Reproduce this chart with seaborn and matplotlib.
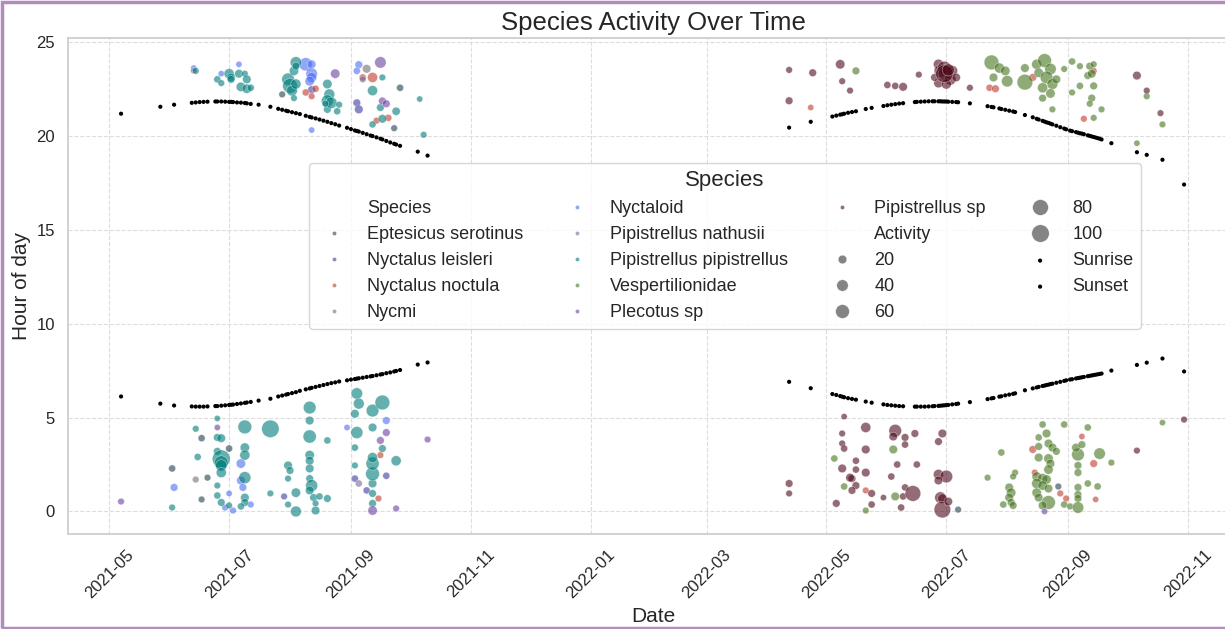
import matplotlib
matplotlib.use('Agg')
import pandas as pd
import matplotlib.pyplot as plt
import matplotlib.dates as mdates
from matplotlib.patches import Rectangle
import seaborn as sns

# species shown in legend order, with their colours
species_order = ['Eptesicus serotinus', 'Nyctalus leisleri', 'Nyctalus noctula', 'Nycmi',
                 'Nyctaloid', 'Pipistrellus nathusii', 'Pipistrellus pipistrellus',
                 'Vespertilionidae', 'Plecotus sp', 'Pipistrellus sp']
species_colors = ['#1f3f4f', '#3a3aa0', '#c0392b', '#707070',
                  '#4a6cf0', '#7a6a9a', '#007b7b',
                  '#45731f', '#6a3fa0', '#4d0a1a']

# --- observations per species: date, hour of day, activity ---
pippip_dates = [
    '2021-06-14', '2021-06-25', '2021-06-27', '2021-07-01', '2021-07-02', '2021-07-02',
    '2021-07-06', '2021-07-07', '2021-07-09', '2021-07-10', '2021-07-10', '2021-07-12',
    '2021-07-31', '2021-08-01', '2021-08-02', '2021-08-03', '2021-08-04', '2021-08-04',
    '2021-08-04', '2021-08-03', '2021-08-20', '2021-08-21', '2021-08-20', '2021-08-20',
    '2021-08-22', '2021-08-25', '2021-08-26', '2021-08-19', '2021-09-17', '2021-09-12',
    '2021-09-16', '2021-09-17', '2021-09-12', '2021-09-24', '2021-10-06', '2021-10-08',
    '2021-06-02', '2021-06-15', '2021-06-14', '2021-06-25', '2021-06-25', '2021-06-27',
    '2021-06-25', '2021-06-27', '2021-06-27', '2021-06-27', '2021-06-27', '2021-06-25',
    '2021-06-25', '2021-06-27', '2021-07-01', '2021-07-09', '2021-07-09', '2021-07-09',
    '2021-07-09', '2021-07-09', '2021-07-09', '2021-07-07', '2021-07-22', '2021-07-22',
    '2021-07-31', '2021-08-01', '2021-07-31', '2021-08-04', '2021-07-31', '2021-08-04',
    '2021-08-11', '2021-08-11', '2021-08-11', '2021-08-11', '2021-08-11', '2021-08-11',
    '2021-08-11', '2021-08-12', '2021-08-11', '2021-08-13', '2021-08-14', '2021-08-14',
    '2021-08-20', '2021-08-20', '2021-08-16', '2021-09-04', '2021-09-05', '2021-09-03',
    '2021-09-04', '2021-09-03', '2021-09-03', '2021-09-12', '2021-09-12', '2021-09-12',
    '2021-09-12', '2021-09-12', '2021-09-12', '2021-09-12', '2021-09-17', '2021-09-12',
    '2021-09-17', '2021-09-24',
]
pippip_hours = [
    23.45, 23.0, 22.8, 23.3, 23.1, 23.0,
    23.3, 22.6, 23.3, 23.0, 22.5, 22.55,
    23.0, 22.65, 22.4, 23.45, 23.9, 23.7,
    22.75, 22.0, 22.75, 22.2, 21.85, 21.4,
    21.75, 21.3, 21.65, 21.7, 23.1, 22.4,
    21.5, 20.9, 20.6, 21.3, 21.95, 20.05,
    0.21, 2.9, 4.4, 4.95, 3.94, 3.9,
    3.2, 2.8, 2.6, 2.45, 2.07, 1.38,
    0.85, 0.48, 0.32, 4.5, 3.4, 3.0,
    1.8, 0.74, 0.48, 0.27, 4.4, 0.96,
    2.45, 2.18, 1.75, 1.0, 0.37, 0.0,
    5.53, 4.84, 3.99, 3.0, 2.7, 2.29,
    1.75, 1.38, 1.12, 0.74, 0.43, 0.05,
    3.78, 0.69, 0.8, 6.28, 5.74, 5.2,
    4.2, 3.4, 2.45, 0.43, 0.96, 1.49,
    2.0, 2.55, 2.87, 5.37, 5.8, 4.47,
    3.35, 2.7,
]
pippip_activity = [
    10, 12, 10, 30, 20, 15,
    20, 25, 10, 20, 25, 12,
    50, 70, 35, 25, 40, 15,
    30, 10, 25, 35, 45, 15,
    40, 12, 10, 10, 10, 30,
    15, 20, 12, 18, 8, 10,
    10, 12, 10, 8, 15, 20,
    15, 105, 60, 40, 30, 10,
    12, 15, 10, 60, 25, 30,
    45, 20, 15, 12, 100, 10,
    20, 15, 10, 25, 10, 35,
    50, 20, 55, 25, 20, 20,
    15, 45, 20, 15, 10, 20,
    12, 15, 12, 40, 35, 20,
    45, 12, 10, 15, 15, 20,
    60, 55, 30, 50, 70, 20,
    15, 30,
]

nyctaloid_dates = [
    '2021-06-13', '2021-06-27', '2021-07-06', '2021-08-09', '2021-08-12', '2021-08-12',
    '2021-08-12', '2021-08-11', '2021-08-12', '2021-09-05', '2021-09-04', '2021-06-03',
    '2021-06-29', '2021-07-03', '2021-07-07', '2021-07-07', '2021-07-08', '2021-07-12',
    '2021-07-01', '2021-09-19', '2021-08-30',
]
nyctaloid_hours = [
    23.6, 23.3, 23.8, 23.8, 23.8, 23.3,
    23.1, 22.9, 20.3, 23.78, 23.45, 1.28,
    0.21, 0.05, 2.55, 1.65, 1.28, 0.37,
    0.96, 4.84, 4.47,
]
nyctaloid_activity = [
    8, 8, 8, 55, 20, 40,
    30, 25, 8, 15, 12, 15,
    10, 10, 25, 20, 15, 10,
    8, 15, 8,
]

leisleri_dates = ['2021-08-12', '2021-09-04', '2021-09-05', '2021-07-29',
                  '2021-09-03', '2021-09-19', '2021-09-09']
leisleri_hours = [22.45, 21.75, 21.4, 0.8, 1.75, 1.9, 1.12]
leisleri_activity = [15, 15, 20, 10, 12, 12, 12]

plecotus_dates = [
    '2021-09-16', '2021-08-24', '2021-09-17', '2021-09-19', '2021-05-07', '2021-09-19',
    '2021-09-16', '2021-09-12', '2021-09-24', '2021-10-10', '2021-06-25', '2022-08-20',
]
plecotus_hours = [23.9, 23.3, 21.85, 21.7, 0.53, 4.2,
                  3.78, 0.05, 0.16, 3.83, 4.47, 0.0]
plecotus_activity = [40, 25, 15, 15, 10, 15,
                     15, 25, 10, 10, 8, 8]

nathusii_dates = ['2021-06-13', '2021-09-05', '2021-09-07']
nathusii_hours = [23.45, 1.49, 23.0]
nathusii_activity = [8, 12, 10]

nycmi_dates = ['2021-09-09', '2021-06-14']
nycmi_hours = [23.56, 1.7]
nycmi_activity = [20, 10]

eptser_dates = [
    '2021-07-28', '2021-09-26', '2021-09-23', '2021-06-02', '2021-06-17', '2021-06-17',
    '2021-06-20', '2021-07-01', '2022-07-07', '2022-08-27',
]
eptser_hours = [22.2, 22.55, 20.4, 2.29, 0.64, 3.9,
                1.8, 3.35, 0.1, 1.33]
eptser_activity = [10, 12, 10, 12, 10, 12,
                   10, 12, 10, 10]

noctula_dates = [
    '2021-08-09', '2021-08-14', '2021-08-12', '2021-09-12', '2021-09-07', '2021-09-20',
    '2021-09-14', '2021-09-16', '2021-09-15', '2022-04-23', '2022-07-23', '2022-07-26',
    '2022-08-14', '2022-09-09', '2022-09-14', '2022-05-21', '2022-08-14', '2022-08-15',
    '2022-08-28', '2022-08-31', '2022-09-08', '2022-09-14', '2022-09-15',
]
noctula_hours = [
    22.3, 22.5, 22.1, 23.1, 23.1, 20.95,
    20.8, 3.0, 0.69, 21.5, 22.55, 22.5,
    23.1, 20.9, 23.45, 1.12, 3.3, 2.07,
    0.96, 0.69, 3.99, 2.55, 0.64,
]
noctula_activity = [
    12, 12, 10, 30, 12, 12,
    10, 10, 10, 8, 12, 15,
    15, 10, 10, 10, 15, 10,
    10, 10, 8, 15, 8,
]

pipsp_dates = [
    '2022-04-12', '2022-04-12', '2022-04-24', '2022-05-08', '2022-05-09', '2022-05-13',
    '2022-06-01', '2022-06-05', '2022-06-09', '2022-06-17', '2022-06-27', '2022-06-28',
    '2022-06-30', '2022-07-01', '2022-07-03', '2022-06-27', '2022-07-01', '2022-07-04',
    '2022-07-06', '2022-06-25', '2022-06-30', '2022-07-02', '2022-07-13', '2022-10-06',
    '2022-10-11', '2022-10-18', '2022-04-12', '2022-04-12', '2022-05-10', '2022-05-09',
    '2022-05-09', '2022-05-10', '2022-05-09', '2022-05-06', '2022-05-14', '2022-05-13',
    '2022-05-16', '2022-05-14', '2022-05-16', '2022-05-16', '2022-05-21', '2022-05-21',
    '2022-05-21', '2022-05-24', '2022-05-24', '2022-05-30', '2022-06-05', '2022-06-04',
    '2022-06-10', '2022-06-10', '2022-06-15', '2022-06-06', '2022-06-03', '2022-06-10',
    '2022-06-09', '2022-06-08', '2022-06-14', '2022-06-16', '2022-06-29', '2022-06-27',
    '2022-06-27', '2022-07-01', '2022-06-27', '2022-06-28', '2022-06-29', '2022-06-29',
    '2022-07-02', '2022-10-06', '2022-10-30',
]
pipsp_hours = [
    23.5, 21.86, 23.35, 23.8, 22.9, 22.4,
    22.7, 22.65, 22.6, 23.25, 23.8, 23.45,
    23.6, 23.3, 23.0, 22.8, 22.75, 23.45,
    23.1, 23.1, 23.3, 23.5, 22.55, 23.2,
    22.4, 21.2, 1.49, 0.96, 5.05, 4.15,
    3.62, 3.35, 2.29, 0.43, 1.75, 1.8,
    1.38, 1.12, 2.7, 2.23, 4.47, 3.3,
    2.07, 0.96, 0.37, 0.74, 4.3, 3.99,
    3.94, 3.56, 4.15, 2.5, 1.86, 1.28,
    0.8, 0.21, 0.96, 2.5, 4.15, 3.72,
    1.97, 1.86, 1.65, 0.74, 0.69, 0.1,
    0.53, 3.24, 4.89,
]
pipsp_activity = [
    10, 15, 15, 25, 10, 10,
    12, 12, 20, 10, 30, 50,
    60, 80, 40, 25, 30, 35,
    20, 15, 100, 45, 10, 20,
    10, 10, 15, 10, 8, 10,
    10, 12, 20, 15, 15, 20,
    15, 15, 12, 12, 30, 20,
    20, 15, 12, 8, 50, 20,
    15, 12, 15, 12, 12, 12,
    12, 12, 80, 12, 20, 15,
    30, 50, 20, 40, 25, 90,
    20, 10, 10,
]

vesp_dates = [
    '2022-05-16', '2022-07-24', '2022-07-28', '2022-07-31', '2022-08-01', '2022-07-25',
    '2022-08-10', '2022-08-10', '2022-08-16', '2022-08-20', '2022-08-23', '2022-08-17',
    '2022-08-21', '2022-08-24', '2022-08-19', '2022-08-23', '2022-08-26', '2022-08-19',
    '2022-08-24', '2022-08-30', '2022-09-03', '2022-09-03', '2022-09-07', '2022-09-07',
    '2022-09-11', '2022-09-12', '2022-09-14', '2022-09-13', '2022-09-14', '2022-09-13',
    '2022-09-12', '2022-09-14', '2022-09-18', '2022-10-11', '2022-10-19', '2022-10-06',
    '2022-05-05', '2022-05-10', '2022-05-21', '2022-06-04', '2022-06-05', '2022-07-29',
    '2022-07-22', '2022-08-05', '2022-08-04', '2022-08-02', '2022-08-03', '2022-08-02',
    '2022-08-03', '2022-07-30', '2022-08-04', '2022-08-17', '2022-08-19', '2022-08-21',
    '2022-08-17', '2022-08-22', '2022-08-24', '2022-08-26', '2022-08-17', '2022-08-22',
    '2022-08-23', '2022-08-22', '2022-08-16', '2022-08-19', '2022-08-21', '2022-08-16',
    '2022-08-19', '2022-08-22', '2022-08-16', '2022-08-17', '2022-08-22', '2022-08-19',
    '2022-08-30', '2022-09-02', '2022-08-30', '2022-09-06', '2022-09-05', '2022-09-11',
    '2022-09-08', '2022-09-17', '2022-09-06', '2022-09-06', '2022-09-16', '2022-09-11',
    '2022-09-06', '2022-09-06', '2022-09-06', '2022-09-06', '2022-09-23', '2022-10-19',
]
vesp_hours = [
    23.45, 23.9, 23.6, 23.45, 22.9, 23.1,
    23.6, 22.85, 23.8, 24.0, 23.55, 23.35,
    23.1, 22.75, 22.55, 22.25, 23.0, 22.0,
    21.4, 23.55, 23.95, 22.3, 23.7, 22.65,
    23.2, 23.7, 23.8, 23.3, 22.65, 22.0,
    21.7, 20.95, 21.4, 22.1, 20.6, 19.6,
    2.82, 1.33, 0.05, 3.3, 0.8, 3.14,
    1.8, 2.07, 1.86, 1.28, 1.0, 0.74,
    0.48, 0.37, 0.32, 3.46, 4.63, 4.15,
    3.94, 3.62, 3.4, 3.2, 2.87, 2.82,
    2.55, 2.23, 1.86, 1.75, 1.7, 1.49,
    1.38, 1.22, 1.0, 0.74, 0.48, 0.32,
    0.37, 0.27, 4.63, 3.03, 3.4, 4.47,
    3.56, 3.08, 2.45, 2.07, 1.33, 1.49,
    1.28, 0.9, 0.69, 0.21, 2.6, 4.73,
]
vesp_activity = [
    15, 70, 30, 25, 40, 20,
    20, 80, 30, 60, 40, 25,
    50, 35, 30, 25, 20, 15,
    10, 10, 12, 10, 10, 12,
    15, 15, 10, 20, 15, 15,
    10, 10, 10, 10, 10, 8,
    12, 12, 10, 20, 20, 12,
    10, 10, 10, 20, 25, 20,
    15, 12, 15, 15, 12, 20,
    12, 20, 20, 15, 20, 25,
    20, 25, 25, 30, 25, 30,
    25, 20, 25, 20, 60, 20,
    12, 10, 12, 50, 20, 12,
    15, 40, 15, 15, 12, 12,
    15, 15, 15, 40, 10, 8,
]

# --- sunrise / sunset for the survey nights ---
sun_dates_2021 = [
    '2021-05-07', '2021-05-27', '2021-06-03', '2021-06-12', '2021-06-14', '2021-06-16',
    '2021-06-18', '2021-06-20', '2021-06-24', '2021-06-25', '2021-06-27', '2021-06-29',
    '2021-07-01', '2021-07-02', '2021-07-03', '2021-07-05', '2021-07-07', '2021-07-09',
    '2021-07-10', '2021-07-12', '2021-07-16', '2021-07-22', '2021-07-26', '2021-07-28',
    '2021-07-30', '2021-07-31', '2021-08-02', '2021-08-04', '2021-08-06', '2021-08-09',
    '2021-08-11', '2021-08-12', '2021-08-14', '2021-08-16', '2021-08-18', '2021-08-20',
    '2021-08-22', '2021-08-24', '2021-08-26', '2021-08-30', '2021-09-01', '2021-09-03',
    '2021-09-04', '2021-09-05', '2021-09-07', '2021-09-09', '2021-09-11', '2021-09-12',
    '2021-09-14', '2021-09-16', '2021-09-17', '2021-09-19', '2021-09-21', '2021-09-23',
    '2021-09-24', '2021-09-26', '2021-10-05', '2021-10-10',
]
sunrise_2021 = [
    6.12, 5.74, 5.64, 5.59, 5.58, 5.58,
    5.58, 5.59, 5.61, 5.61, 5.63, 5.65,
    5.67, 5.68, 5.69, 5.72, 5.75, 5.78,
    5.80, 5.83, 5.90, 6.00, 6.12, 6.17,
    6.22, 6.25, 6.30, 6.35, 6.42, 6.50,
    6.55, 6.58, 6.63, 6.68, 6.73, 6.78,
    6.83, 6.87, 6.92, 6.98, 7.02, 7.05,
    7.07, 7.09, 7.12, 7.16, 7.19, 7.21,
    7.25, 7.29, 7.31, 7.36, 7.40, 7.45,
    7.48, 7.53, 7.82, 7.93,
]
sunset_2021 = [
    21.17, 21.54, 21.65, 21.75, 21.77, 21.79,
    21.80, 21.81, 21.82, 21.82, 21.82, 21.81,
    21.80, 21.80, 21.79, 21.77, 21.76, 21.74,
    21.72, 21.69, 21.65, 21.54, 21.43, 21.38,
    21.33, 21.30, 21.25, 21.20, 21.15, 21.06,
    21.00, 20.97, 20.92, 20.86, 20.80, 20.74,
    20.67, 20.61, 20.54, 20.42, 20.35, 20.28,
    20.25, 20.22, 20.15, 20.08, 20.01, 19.98,
    19.91, 19.84, 19.80, 19.72, 19.64, 19.57,
    19.53, 19.46, 19.15, 18.94,
]
sun_dates_2022 = [
    '2022-04-12', '2022-04-23', '2022-05-04', '2022-05-06', '2022-05-08', '2022-05-09',
    '2022-05-10', '2022-05-12', '2022-05-14', '2022-05-16', '2022-05-21', '2022-05-24',
    '2022-05-30', '2022-06-01', '2022-06-03', '2022-06-05', '2022-06-07', '2022-06-09',
    '2022-06-15', '2022-06-16', '2022-06-18', '2022-06-20', '2022-06-22', '2022-06-24',
    '2022-06-25', '2022-06-27', '2022-06-28', '2022-06-29', '2022-06-30', '2022-07-01',
    '2022-07-02', '2022-07-04', '2022-07-06', '2022-07-07', '2022-07-13', '2022-07-22',
    '2022-07-24', '2022-07-25', '2022-07-28', '2022-07-29', '2022-07-31', '2022-08-02',
    '2022-08-04', '2022-08-05', '2022-08-10', '2022-08-14', '2022-08-16', '2022-08-17',
    '2022-08-19', '2022-08-20', '2022-08-21', '2022-08-22', '2022-08-23', '2022-08-24',
    '2022-08-26', '2022-08-28', '2022-08-30', '2022-08-31', '2022-09-02', '2022-09-03',
    '2022-09-05', '2022-09-06', '2022-09-07', '2022-09-08', '2022-09-09', '2022-09-11',
    '2022-09-12', '2022-09-13', '2022-09-14', '2022-09-15', '2022-09-16', '2022-09-17',
    '2022-09-18', '2022-09-23', '2022-10-06', '2022-10-11', '2022-10-19', '2022-10-30',
]
sunrise_2022 = [
    6.90, 6.56, 6.25, 6.20, 6.14, 6.11,
    6.08, 6.03, 5.99, 5.95, 5.85, 5.79,
    5.70, 5.67, 5.65, 5.63, 5.61, 5.60,
    5.58, 5.58, 5.58, 5.58, 5.59, 5.60,
    5.61, 5.62, 5.63, 5.64, 5.65, 5.66,
    5.67, 5.70, 5.72, 5.74, 5.82, 5.98,
    6.02, 6.04, 6.11, 6.13, 6.18, 6.22,
    6.26, 6.29, 6.45, 6.55, 6.60, 6.63,
    6.68, 6.70, 6.73, 6.75, 6.78, 6.80,
    6.85, 6.90, 6.95, 6.98, 7.02, 7.04,
    7.08, 7.10, 7.12, 7.14, 7.16, 7.20,
    7.22, 7.24, 7.26, 7.28, 7.30, 7.32,
    7.34, 7.50, 7.80, 7.92, 8.14, 7.45,
]
sunset_2022 = [
    20.43, 20.74, 21.02, 21.07, 21.12, 21.14,
    21.17, 21.22, 21.26, 21.30, 21.42, 21.48,
    21.58, 21.62, 21.65, 21.68, 21.71, 21.73,
    21.79, 21.80, 21.81, 21.82, 21.83, 21.83,
    21.83, 21.83, 21.83, 21.82, 21.82, 21.82,
    21.81, 21.80, 21.79, 21.78, 21.72, 21.57,
    21.53, 21.51, 21.45, 21.42, 21.38, 21.33,
    21.29, 21.26, 21.10, 20.98, 20.90, 20.86,
    20.79, 20.75, 20.71, 20.68, 20.64, 20.60,
    20.53, 20.45, 20.38, 20.34, 20.27, 20.24,
    20.19, 20.16, 20.13, 20.11, 20.08, 20.02,
    19.99, 19.96, 19.93, 19.90, 19.87, 19.84,
    19.80, 19.60, 19.12, 18.98, 18.72, 17.40,
]

obs = {
    'Eptesicus serotinus': (eptser_dates, eptser_hours, eptser_activity),
    'Nyctalus leisleri': (leisleri_dates, leisleri_hours, leisleri_activity),
    'Nyctalus noctula': (noctula_dates, noctula_hours, noctula_activity),
    'Nycmi': (nycmi_dates, nycmi_hours, nycmi_activity),
    'Nyctaloid': (nyctaloid_dates, nyctaloid_hours, nyctaloid_activity),
    'Pipistrellus nathusii': (nathusii_dates, nathusii_hours, nathusii_activity),
    'Pipistrellus pipistrellus': (pippip_dates, pippip_hours, pippip_activity),
    'Vespertilionidae': (vesp_dates, vesp_hours, vesp_activity),
    'Plecotus sp': (plecotus_dates, plecotus_hours, plecotus_activity),
    'Pipistrellus sp': (pipsp_dates, pipsp_hours, pipsp_activity),
}
frames = []
for name, (d, h, a) in obs.items():
    frames.append(pd.DataFrame({'Date': pd.to_datetime(d), 'Hour': h,
                                'Activity': a, 'Species': name}))
df = pd.concat(frames, ignore_index=True)

sun_dates = pd.to_datetime(sun_dates_2021 + sun_dates_2022)
sunrise = sunrise_2021 + sunrise_2022
sunset = sunset_2021 + sunset_2022

sns.set_theme(style='whitegrid')
plt.rcParams['font.family'] = ['Liberation Sans', 'DejaVu Sans']

fig = plt.figure(figsize=(12.25, 6.29), dpi=100)
ax = fig.add_axes([0.0555, 0.151, 0.956, 0.7886])

sns.scatterplot(data=df, x='Date', y='Hour', hue='Species', size='Activity',
                hue_order=species_order, palette=dict(zip(species_order, species_colors)),
                sizes=(20, 165), alpha=0.6, ax=ax)
ax.scatter(sun_dates, sunrise, s=9, color='black', edgecolor='none', label='Sunrise')
ax.scatter(sun_dates, sunset, s=9, color='black', edgecolor='none', label='Sunset')

ax.set_xlim(pd.Timestamp('2021-04-10'), pd.Timestamp('2022-11-27'))
ax.set_ylim(-1.2, 25.2)
ax.set_yticks([0, 5, 10, 15, 20, 25])
ax.xaxis.set_major_locator(mdates.MonthLocator(bymonth=[1, 3, 5, 7, 9, 11]))
ax.xaxis.set_major_formatter(mdates.DateFormatter('%Y-%m'))
ax.tick_params(axis='both', labelsize=12)
plt.setp(ax.get_xticklabels(), rotation=45)
ax.grid(True, linestyle='--', color='#dddddd', linewidth=0.8)

ax.set_title('Species Activity Over Time', fontsize=18.5)
ax.set_xlabel('Date', fontsize=15)
ax.set_ylabel('Hour of day', fontsize=15)

handles, labels = ax.get_legend_handles_labels()
leg = ax.legend(handles, labels, title='Species', ncol=4, loc='center',
                bbox_to_anchor=(0.561, 0.581), fontsize=13, title_fontsize=16)
for h, t in zip(leg.legend_handles, labels):
    if t in species_order:
        h.set_markersize(3)

# purple frame around the figure
fig.add_artist(Rectangle((0.002, 0.002), 1.1, 0.995, transform=fig.transFigure,
                         fill=False, edgecolor='#b08cbf', linewidth=2.5))

fig.savefig('out.png', dpi=100)
